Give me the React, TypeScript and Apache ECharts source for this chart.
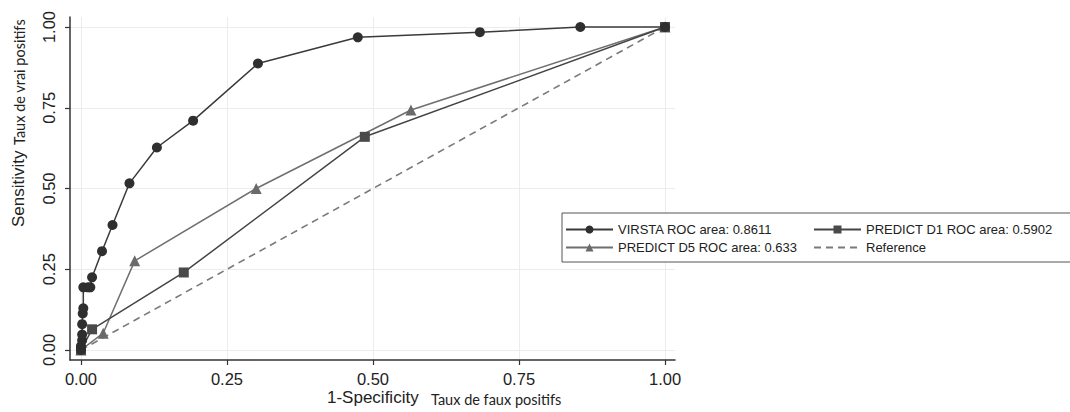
import React, { useEffect, useRef } from "react";
import * as echarts from "echarts";

const tickValues = [0, 0.25, 0.5, 0.75, 1];

const virstaFpr = [0, 0, 0.002, 0.002, 0.002, 0.003, 0.004, 0.004, 0.012, 0.016, 0.019, 0.036, 0.054, 0.083, 0.13, 0.192, 0.303, 0.474, 0.683, 0.855, 1];
const virstaTpr = [0, 0.012, 0.03, 0.048, 0.08, 0.113, 0.129, 0.194, 0.194, 0.194, 0.225, 0.306, 0.387, 0.516, 0.627, 0.71, 0.887, 0.968, 0.984, 1, 1];

const d1Fpr = [0, 0.019, 0.176, 0.486, 1];
const d1Tpr = [0, 0.064, 0.24, 0.66, 1];

const d5Fpr = [0, 0.038, 0.092, 0.3, 0.565, 1];
const d5Tpr = [0, 0.052, 0.276, 0.5, 0.743, 1];

const refFpr = [0, 1];
const refTpr = [0, 1];

const seriesNames = [
  "VIRSTA ROC area: 0.8611",
  "PREDICT D1 ROC area: 0.5902",
  "PREDICT D5 ROC area: 0.633",
  "Reference",
];

const zip = (xs: number[], ys: number[]) => xs.map((x, i) => [x, ys[i]]);

export default function App() {
  const ref = useRef<HTMLDivElement>(null);
  useEffect(() => {
    document.body.style.margin = "0";
    const chart = echarts.init(ref.current!, null, { renderer: "svg" });
    const axisFont = "'Liberation Sans', Arial, sans-serif";
    const noteFont = "Lato, 'Open Sans', sans-serif";
    const legendCommon = {
      orient: "vertical",
      top: 223,
      padding: 0,
      itemWidth: 47,
      itemHeight: 10,
      itemGap: 5,
      textStyle: { fontSize: 13, color: "#222", fontFamily: axisFont },
      z: 10,
    };
    chart.setOption({
      animation: false,
      backgroundColor: "#ffffff",
      grid: { left: 70, right: 395, top: 17, bottom: 52, containLabel: false },
      xAxis: {
        type: "value",
        min: -0.0188,
        max: 1.0171,
        axisLine: { show: true, onZero: false, lineStyle: { color: "#333", width: 1.5 } },
        axisTick: { show: true, length: 5, customValues: tickValues, lineStyle: { color: "#333", width: 1.2 } },
        axisLabel: {
          customValues: tickValues,
          formatter: (v: number) => v.toFixed(2),
          fontSize: 16.5,
          color: "#222",
          fontFamily: axisFont,
          margin: 10,
        },
        splitLine: { show: true, lineStyle: { color: "#ececec", width: 1 } },
      },
      yAxis: {
        type: "value",
        min: -0.031,
        max: 1.031,
        axisLine: { show: true, onZero: false, lineStyle: { color: "#333", width: 1.5 } },
        axisTick: { show: true, length: 5, customValues: tickValues, lineStyle: { color: "#333", width: 1.2 } },
        axisLabel: {
          customValues: tickValues,
          formatter: (v: number) => v.toFixed(2),
          fontSize: 16.5,
          color: "#222",
          fontFamily: axisFont,
          rotate: 90,
          margin: 13,
        },
        splitLine: { show: true, lineStyle: { color: "#ececec", width: 1 } },
      },
      legend: [
        {
          ...legendCommon,
          data: [seriesNames[0], seriesNames[2]],
          left: 565,
        },
        {
          ...legendCommon,
          data: [seriesNames[1], { name: seriesNames[3], itemStyle: { opacity: 0 } }],
          left: 813,
        },
      ],
      graphic: [
        {
          type: "rect",
          z: 5,
          shape: { x: 562, y: 213, width: 560, height: 49 },
          style: { fill: "#fff", stroke: "#555", lineWidth: 1 },
        },
        {
          type: "text",
          x: 18,
          y: 227,
          rotation: Math.PI / 2,
          style: { text: "Sensitivity", fontSize: 17, fill: "#222", fontFamily: axisFont, align: "left", verticalAlign: "middle" },
        },
        {
          type: "text",
          x: 19,
          y: 145,
          rotation: Math.PI / 2,
          style: { text: "Taux de vrai positifs", fontSize: 14.5, fill: "#222", fontFamily: noteFont, align: "left", verticalAlign: "middle" },
        },
        {
          type: "text",
          x: 327,
          y: 397,
          style: { text: "1-Specificity", fontSize: 17, fill: "#222", fontFamily: axisFont, align: "left", verticalAlign: "middle" },
        },
        {
          type: "text",
          x: 431,
          y: 399,
          style: { text: "Taux de faux positifs", fontSize: 14.5, fill: "#222", fontFamily: noteFont, align: "left", verticalAlign: "middle" },
        },
      ],
      series: [
        {
          name: seriesNames[3],
          type: "line",
          data: zip(refFpr, refTpr),
          showSymbol: false,
          symbol: "none",
          lineStyle: { color: "#7a7a7a", width: 1.6, type: [7, 5] },
          itemStyle: { color: "#7a7a7a" },
          z: 2,
        },
        {
          name: seriesNames[2],
          type: "line",
          data: zip(d5Fpr, d5Tpr),
          symbol: "triangle",
          symbolSize: 11,
          lineStyle: { color: "#6f6f6f", width: 1.5 },
          itemStyle: { color: "#6a6a6a" },
          z: 3,
        },
        {
          name: seriesNames[1],
          type: "line",
          data: zip(d1Fpr, d1Tpr),
          symbol: "rect",
          symbolSize: 10,
          lineStyle: { color: "#444", width: 1.5 },
          itemStyle: { color: "#4a4a4a" },
          z: 3,
        },
        {
          name: seriesNames[0],
          type: "line",
          data: zip(virstaFpr, virstaTpr),
          symbol: "circle",
          symbolSize: 10,
          lineStyle: { color: "#3a3a3a", width: 1.5 },
          itemStyle: { color: "#2f2f2f" },
          z: 4,
        },
      ],
    });
    return () => chart.dispose();
  }, []);
  return <div ref={ref} style={{ width: 1070, height: 412 }} />;
}
